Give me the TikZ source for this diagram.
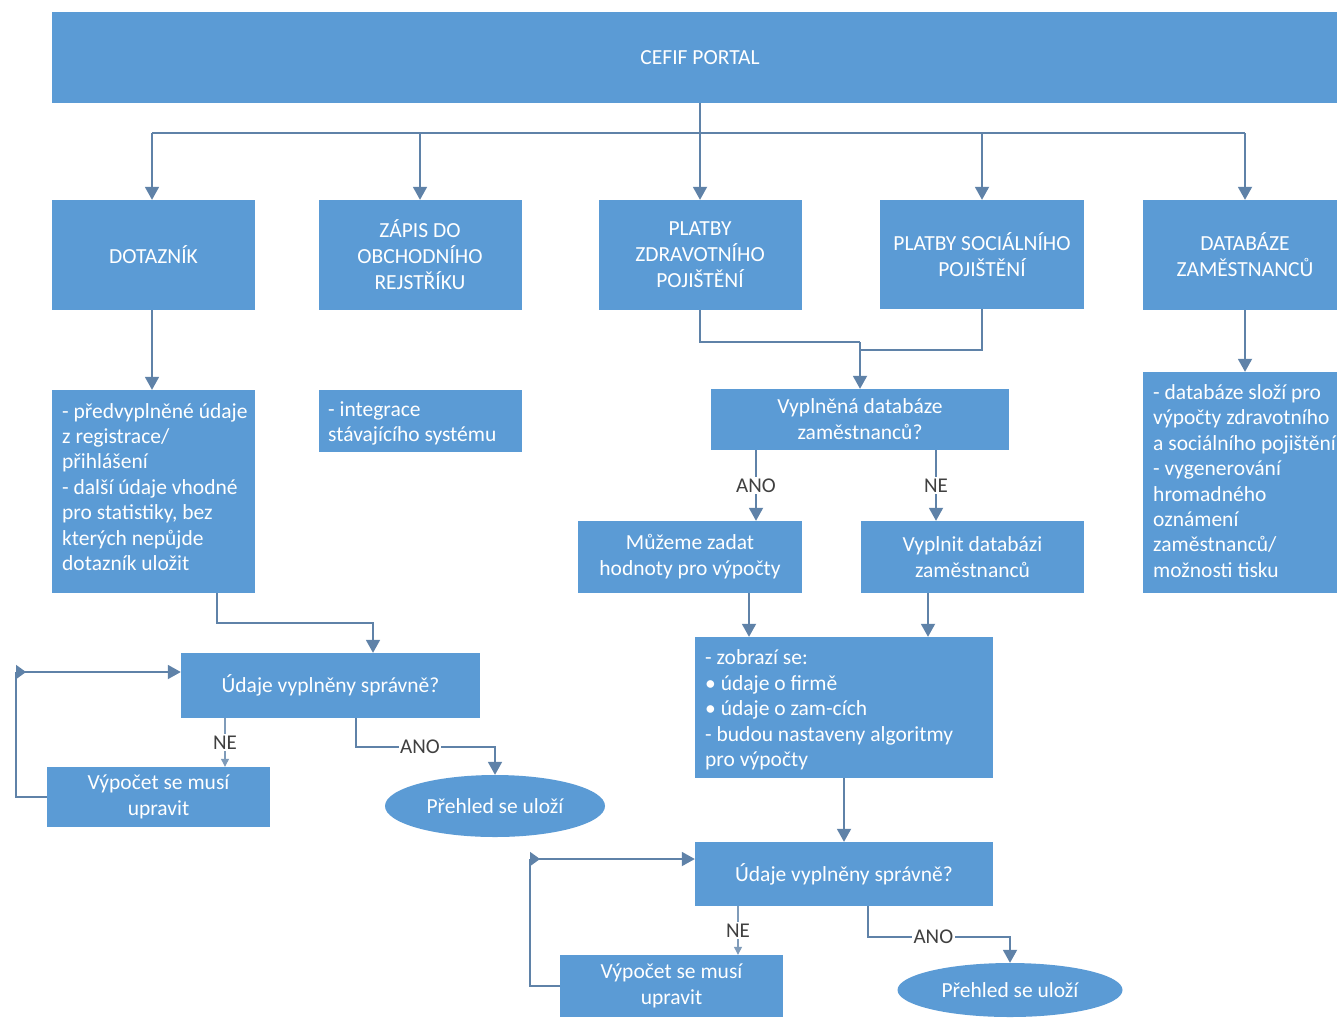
\documentclass[tikz,border=0pt]{standalone}
\usepackage{fontspec}
\setmainfont{Carlito}
\usetikzlibrary{arrows.meta,shapes.geometric}
\definecolor{boxblue}{HTML}{5B9BD5}
\definecolor{lineblue}{HTML}{5F82A8}
\definecolor{lbl}{HTML}{404040}
\begin{document}
\begin{tikzpicture}[x=1pt,y=-1pt,
 box/.style={fill=boxblue, draw=none, text=white, inner sep=0pt, align=center, font=\fontsize{21.5}{26}\selectfont},
 txt/.style={text=white, inner sep=0pt, align=left, anchor=west, font=\fontsize{21.5}{25.4}\selectfont},
 oval/.style={ellipse, fill=boxblue, draw=none, text=white, inner sep=0pt, font=\fontsize{21.5}{26}\selectfont},
 conn/.style={draw=lineblue, line width=1.8pt, -{Triangle[width=14pt,length=13pt]}},
 plain/.style={draw=lineblue, line width=1.8pt},
 small/.style={draw=lineblue!80, line width=1.1pt, -{Triangle[width=8pt,length=8pt]}},
 loopin/.style={draw=lineblue, line width=1.8pt, {Triangle[reversed,width=14pt,length=10pt]}-{Triangle[width=14pt,length=13pt]}},
 lab/.style={fill=white, text=lbl, inner sep=1.5pt, font=\fontsize{21}{24}\selectfont}
]
\useasboundingbox (0,0) rectangle (1337,1021);
\clip (0,0) rectangle (1337,1021);
\fill[white] (0,0) rectangle (1337,1021);

% top
\node[box, minimum width=1296, minimum height=91] (portal) at (700,57.5) {CEFIF PORTAL};

% row 1
\node[box, minimum width=203, minimum height=110] (dot) at (153.5,255) {DOTAZNÍK};
\node[box, minimum width=203, minimum height=110] (zap) at (420,255) {ZÁPIS DO\\OBCHODNÍHO\\REJSTŘÍKU};
\node[box, minimum width=203, minimum height=110] (pzp) at (700,255) {PLATBY\\ZDRAVOTNÍHO\\POJIŠTĚNÍ};
\node[box, minimum width=204, minimum height=109] (psp) at (982,254.5) {PLATBY SOCIÁLNÍHO\\POJIŠTĚNÍ};
\node[box, minimum width=204, minimum height=110] (db) at (1245,255) {DATABÁZE\\ZAMĚSTNANCŮ};

% row 2
\node[box, minimum width=203, minimum height=203] (dotd) at (153.5,491.5) {};
\node[txt] (dotdt) at (62,487) {- předvyplněné údaje\\z registrace/\\přihlášení\\- další údaje vhodné\\pro statistiky, bez\\kterých nepůjde\\dotazník uložit};
\node[box, minimum width=203, minimum height=62] (int) at (420,421) {};
\node[txt] (intt) at (328,423.5) {- integrace\\stávajícího systému};
\node[box, minimum width=298, minimum height=61] (vyp) at (860,419.5) {Vyplněná databáze\\zaměstnanců?};
\node[box, minimum width=204, minimum height=221] (dbd) at (1245,482.5) {};
\node[txt] (dbdt) at (1153,481) {- databáze složí pro\\výpočty zdravotního\\a sociálního pojištění\\- vygenerování\\hromadného\\oznámení\\zaměstnanců/\\možnosti tisku};

% middle right
\node[box, minimum width=224, minimum height=72] (muz) at (690,557) {Můžeme zadat\\hodnoty pro výpočty};
\node[box, minimum width=223, minimum height=72] (vyd) at (972.5,557) {Vyplnit databázi\\zaměstnanců};
\node[box, minimum width=298, minimum height=141] (zob) at (844,707.5) {};
\node[txt] (zobt) at (705,710) {- zobrazí se:\\• údaje o firmě\\• údaje o zam-cích\\- budou nastaveny algoritmy\\pro výpočty};

% bottom left flow
\node[box, minimum width=299, minimum height=65] (ud1) at (330.5,685.5) {Údaje vyplněny správně?};
\node[box, minimum width=223, minimum height=60] (vy1) at (158.5,797) {Výpočet se musí\\upravit};
\node[oval, minimum width=220, minimum height=62] (pr1) at (495,806) {Přehled se uloží};

% bottom right flow
\node[box, minimum width=298, minimum height=64] (ud2) at (844,874) {Údaje vyplněny správně?};
\node[box, minimum width=223, minimum height=62] (vy2) at (671.5,986) {Výpočet se musí\\upravit};
\node[oval, minimum width=225, minimum height=54] (pr2) at (1010,990) {Přehled se uloží};

% helper coordinates
\coordinate (bus) at (0,133);
\coordinate (j1) at (860,342);
\coordinate (j2) at (860,350);
\coordinate (xano) at (756,0);
\coordinate (xne) at (936,0);
\coordinate (xm) at (749,0);
\coordinate (xv) at (928,0);
\coordinate (xne2) at (738,0);
\coordinate (c2) at (530,859);
\coordinate (xa2) at (868,0);
\coordinate (ya2) at (0,937);
\coordinate (xd) at (217,0);
\coordinate (k3) at (373,623);
\coordinate (xne1) at (225,0);
\coordinate (c1) at (16,672);
\coordinate (xa1) at (356,0);
\coordinate (ya1) at (0,747);
\coordinate (xdot) at (152,0);

% top connectors
\draw[conn] (portal.south) -- (pzp.north);
\draw[plain] (bus -| xdot) -- (bus -| db.north);
\draw[conn] (bus -| xdot) -- (dot.north -| xdot);
\draw[conn] (bus -| zap.north) -- (zap.north);
\draw[conn] (bus -| psp.north) -- (psp.north);
\draw[conn] (bus -| db.north) -- (db.north);

% column connectors
\draw[conn] (dot.south -| xdot) -- (dotd.north -| xdot);
\draw[conn] (db) -- (dbd);
\draw[plain] (pzp.south) |- (j1);
\draw[plain] (psp.south) |- (j2);
\draw[conn] (j1) -- (vyp.north);
\draw[conn] (vyp.south -| xano) -- node[lab]{ANO} (muz.north -| xano);
\draw[conn] (vyp.south -| xne) -- node[lab]{NE} (vyd.north -| xne);
\draw[conn] (muz.south -| xm) -- (zob.north -| xm);
\draw[conn] (vyd.south -| xv) -- (zob.north -| xv);
\draw[conn] (zob) -- (ud2);

% bottom right
\draw[small] (ud2.south -| xne2) -- node[lab]{NE} (vy2.north -| xne2);
\draw[plain] (vy2.west) -| (c2);
\draw[loopin] (c2) -- (ud2.west |- c2);
\draw[conn] (ud2.south -| xa2) |- node[lab, pos=0.73]{ANO} (pr2.north |- ya2) -- (pr2.north);

% bottom left
\draw[conn] (dotd.south -| xd) |- (k3) -- (ud1.north -| k3);
\draw[small] (ud1.south -| xne1) -- node[lab]{NE} (vy1.north -| xne1);
\draw[plain] (vy1.west) -| (c1);
\draw[loopin] (c1) -- (ud1.west |- c1);
\draw[conn] (ud1.south -| xa1) |- node[lab, pos=0.73]{ANO} (pr1.north |- ya1) -- (pr1.north);
\end{tikzpicture}
\end{document}
